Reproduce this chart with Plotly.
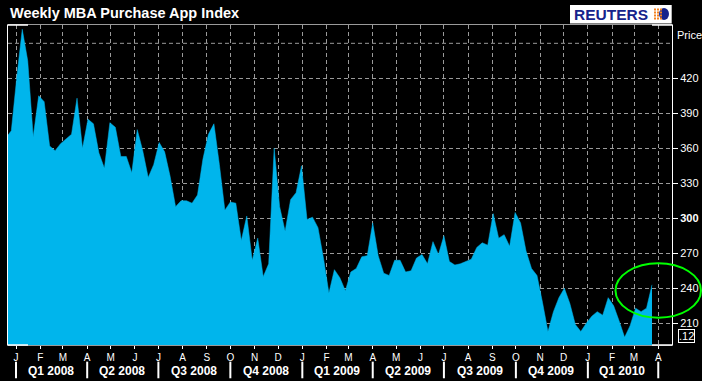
import pandas as pd
import plotly.graph_objects as go

# ---------------- data ----------------
start_date = "2007-12-19"  # weekly (Wednesday) observations
index_values = [
    369, 375, 421, 462, 435, 370, 405, 400, 362, 358,
    364, 368, 372, 403, 360, 385, 381, 356, 343, 382,
    378, 353, 353, 339, 376, 358, 335, 346, 365, 357,
    336, 310, 315, 315, 313, 320, 351, 372, 381, 346,
    307, 314, 313, 281, 302, 264, 283, 250, 261, 360,
    310, 289, 316, 322, 345, 299, 301, 292, 266, 236,
    256, 249, 238, 254, 257, 267, 268, 296, 268, 253,
    251, 264, 264, 254, 255, 266, 269, 261, 280, 269,
    285, 263, 260, 261, 263, 265, 275, 279, 277, 304,
    283, 286, 276, 305, 296, 272, 257, 251, 228, 203,
    220, 232, 240, 227, 209, 203, 210, 216, 220, 217,
    232, 225, 212, 198, 208, 223, 220, 223, 243,
]
dates = pd.date_range(start_date, periods=len(index_values), freq="7D")

month_starts = pd.date_range("2008-01-01", "2010-04-01", freq="MS")
month_letters = ["J", "F", "M", "A", "M", "J", "J", "A", "S", "O", "N", "D"]
month_labels = [month_letters[d.month - 1] for d in month_starts]

quarter_labels = ["Q1 2008", "Q2 2008", "Q3 2008", "Q4 2008",
                  "Q1 2009", "Q2 2009", "Q3 2009", "Q4 2009", "Q1 2010"]
quarter_mid = ["2008-02-15", "2008-05-16", "2008-08-16", "2008-11-15",
               "2009-02-14", "2009-05-16", "2009-08-16", "2009-11-15",
               "2010-02-14"]
quarter_starts = pd.date_range("2008-01-01", "2010-04-01", freq="QS")

price_ticks = [210, 240, 270, 300, 330, 360, 390, 420]
price_labels = ["210", "240", "270", "<b>300</b>", "330", "360", "390", "420"]

# ---------------- styling ----------------
FONT = "Liberation Sans, Arial, sans-serif"
FILL = "#00b5ec"
GRID = "#9a9a9a"

fig = go.Figure()
fig.add_trace(go.Scatter(
    x=dates, y=index_values, mode="lines",
    line=dict(color=FILL, width=0.5),
    fill="tozeroy", fillcolor=FILL, hoverinfo="skip", showlegend=False,
))

shapes = []
# extra 450 gridline (no label)
shapes.append(dict(type="line", xref="paper", yref="y", x0=0, x1=1, y0=450, y1=450,
                   line=dict(color=GRID, width=1, dash="4px,3px"), layer="below"))
# white corner segments of the frame
for (a, b, yy) in [(0, 0.0301, 1), (0.9699, 1, 1), (0, 0.0301, 0), (0.9699, 1, 0)]:
    shapes.append(dict(type="line", xref="paper", yref="paper", x0=a, x1=b, y0=yy, y1=yy,
                       line=dict(color="white", width=1.5)))
# quarter separators
for q in quarter_starts:
    shapes.append(dict(type="line", xref="x", yref="paper", x0=q, x1=q, y0=-0.052, y1=-0.104,
                       line=dict(color="white", width=2)))
# green highlight ellipse
shapes.append(dict(type="circle", xref="paper", yref="paper",
                   x0=(615.5 - 8) / 664, x1=(701 - 8) / 664,
                   y0=(345 - 317.7) / 320, y1=(345 - 263.3) / 320,
                   line=dict(color="#00ff00", width=2)))
# Reuters logo box
shapes.append(dict(type="rect", xref="paper", yref="paper",
                   x0=(570 - 8) / 664, x1=(671.7 - 8) / 664,
                   y0=(345 - 23.5) / 320, y1=(345 - 5) / 320,
                   fillcolor="white", line=dict(width=0)))
shapes.append(dict(type="circle", xref="paper", yref="paper",
                   x0=(659 - 8) / 664, x1=(669 - 8) / 664,
                   y0=(345 - 20) / 320, y1=(345 - 8) / 320,
                   fillcolor="#16238c", line=dict(width=0)))
for gx in [654, 657, 660]:
    for gy in [9.5, 12.5, 15.5, 18.5]:
        shapes.append(dict(type="rect", xref="paper", yref="paper",
                           x0=(gx - 8) / 664, x1=(gx + 2 - 8) / 664,
                           y0=(345 - gy - 1) / 320, y1=(345 - gy + 1) / 320,
                           fillcolor="#f58220", line=dict(width=0)))

annotations = []
for lbl, mid in zip(quarter_labels, quarter_mid):
    annotations.append(dict(text=f"<b>{lbl}</b>", x=mid, xref="x", y=-0.081, yref="paper",
                            showarrow=False, xanchor="center", yanchor="middle",
                            font=dict(family=FONT, size=12, color="white")))
annotations.append(dict(text="<b>Weekly MBA Purchase App Index</b>", x=0, xref="paper",
                        y=(345 - 12.5) / 320, yref="paper", showarrow=False,
                        xanchor="left", yanchor="middle",
                        font=dict(family=FONT, size=14.5, color="white")))
annotations.append(dict(text="<b>REUTERS</b>", x=(572 - 8) / 664, xref="paper",
                        y=(345 - 14.5) / 320, yref="paper", showarrow=False,
                        xanchor="left", yanchor="middle",
                        font=dict(family=FONT, size=15.5, color="#16238c")))
annotations.append(dict(text="Price", x=(675 - 8) / 664, xref="paper",
                        y=(345 - 35) / 320, yref="paper", showarrow=False,
                        xanchor="left", yanchor="middle",
                        font=dict(family=FONT, size=11, color="white")))
annotations.append(dict(text=".12", x=(686.7 - 8) / 664, xref="paper",
                        y=(345 - 336) / 320, yref="paper", showarrow=False,
                        xanchor="center", yanchor="middle", borderpad=0,
                        bordercolor="white", borderwidth=1,
                        font=dict(family=FONT, size=11, color="white")))

fig.update_layout(
    width=702, height=381,
    margin=dict(l=8, r=30, t=25, b=36, autoexpand=False),
    paper_bgcolor="black", plot_bgcolor="black",
    showlegend=False,
    shapes=shapes, annotations=annotations,
    xaxis=dict(
        type="date", range=["2007-12-21 18:33", "2010-04-18 13:26"],
        tickvals=list(month_starts), ticktext=month_labels,
        ticks="outside", ticklen=3, tickcolor="white",
        tickfont=dict(family=FONT, size=10, color="white"),
        showgrid=True, gridcolor=GRID, gridwidth=1, griddash="4px,3px",
        showline=True, linecolor=GRID, linewidth=1, mirror=True,
        zeroline=False, fixedrange=True, automargin=False,
    ),
    yaxis=dict(
        side="right", range=[191.4, 465.7],
        tickvals=price_ticks, ticktext=price_labels,
        ticks="outside", ticklen=5, tickcolor="white",
        tickfont=dict(family=FONT, size=11, color="white"),
        showgrid=True, gridcolor=GRID, gridwidth=1, griddash="4px,3px",
        showline=True, linecolor="white", linewidth=1, mirror=True,
        zeroline=False, fixedrange=True, automargin=False,
    ),
)

fig.write_html("out.html", config={"displayModeBar": False},
               post_script="document.body.style.margin='0px';document.body.style.background='black';")
